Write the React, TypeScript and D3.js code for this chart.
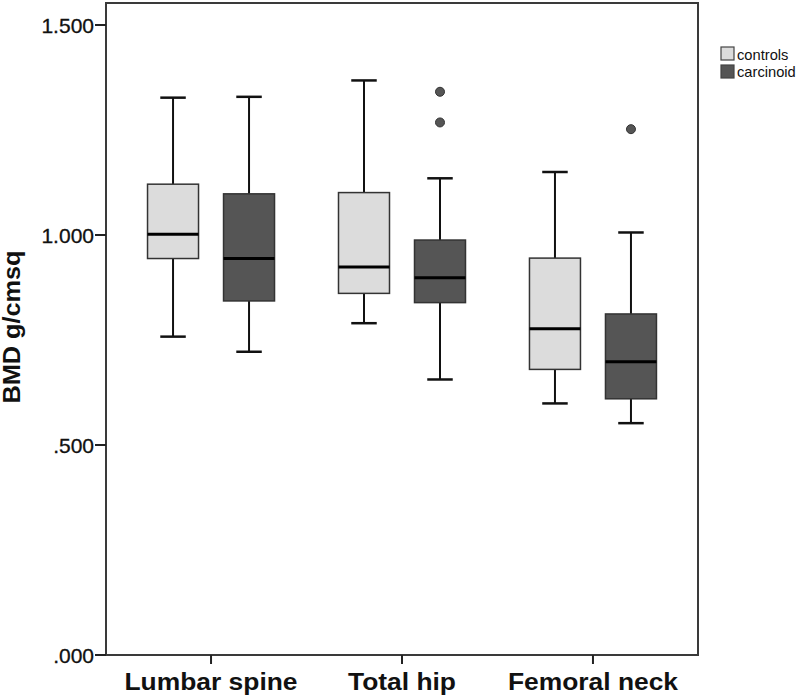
import React from "react";
import * as d3 from "d3";

const categories = ["Lumbar spine", "Total hip", "Femoral neck"];
const groups = ["controls", "carcinoid"];

const controlsLow = [0.758, 0.79, 0.599];
const controlsQ1 = [0.944, 0.861, 0.68];
const controlsMedian = [1.002, 0.924, 0.777];
const controlsQ3 = [1.121, 1.101, 0.945];
const controlsHigh = [1.327, 1.368, 1.15];
const controlsOutliers: number[][] = [[], [], []];

const carcinoidLow = [0.722, 0.656, 0.552];
const carcinoidQ1 = [0.843, 0.839, 0.61];
const carcinoidMedian = [0.944, 0.898, 0.698];
const carcinoidQ3 = [1.098, 0.988, 0.812];
const carcinoidHigh = [1.329, 1.135, 1.006];
const carcinoidOutliers: number[][] = [[], [1.341, 1.268], [1.252]];

const yTicks = [0, 0.5, 1.0, 1.5];
const yTickLabels = [".000", ".500", "1.000", "1.500"];

const fills: Record<string, string> = { controls: "#dcdcdc", carcinoid: "#555555" };

const W = 800;
const H = 699;
const left = 106;
const right = 698;
const top = 3;
const bottom = 655;

export default function App() {
  const y = d3.scaleLinear().domain([0, 1.5]).range([bottom, 25]);
  const x = d3.scalePoint<string>().domain(categories).range([left, right]).padding(0.55);
  const g = d3.scaleBand<string>().domain(groups).range([-76, 76]).paddingInner(0.329).paddingOuter(0.1645);
  const bw = g.bandwidth();

  const series = [
    { key: "controls", low: controlsLow, q1: controlsQ1, med: controlsMedian, q3: controlsQ3, high: controlsHigh, out: controlsOutliers },
    { key: "carcinoid", low: carcinoidLow, q1: carcinoidQ1, med: carcinoidMedian, q3: carcinoidQ3, high: carcinoidHigh, out: carcinoidOutliers },
  ];

  return (
    <svg width={W} height={H} style={{ position: "absolute", left: 0, top: 0, background: "#fff" }} fontFamily="Liberation Sans, Arial, sans-serif">
      <rect x={0} y={0} width={W} height={H} fill="#fff" />
      {/* frame */}
      <rect x={left} y={top} width={right - left} height={bottom - top} fill="none" stroke="#3a3a3a" strokeWidth={2} />
      {/* y axis */}
      {yTicks.map((t, i) => (
        <g key={t}>
          <line x1={left - 11} x2={left} y1={y(t)} y2={y(t)} stroke="#222" strokeWidth={2} />
          <text x={left - 12} y={y(t) + 8} textAnchor="end" fontSize={21} fill="#111" stroke="#111" strokeWidth={0.3}>
            {yTickLabels[i]}
          </text>
        </g>
      ))}
      {/* x axis ticks */}
      {categories.map((c) => (
        <g key={c}>
          <line x1={x(c)!} x2={x(c)!} y1={bottom} y2={bottom + 9} stroke="#222" strokeWidth={2} />
          <text x={x(c)!} y={690} textAnchor="middle" fontSize={24} fontWeight="bold" fill="#111" transform={`translate(${x(c)!},0) scale(1.1,1) translate(${-x(c)!},0)`}>
            {c}
          </text>
        </g>
      ))}
      <text transform={`translate(20,327) rotate(-90) scale(1.1,1)`} x={0} y={0} textAnchor="middle" fontSize={23} fontWeight="bold" fill="#111">
        BMD g/cmsq
      </text>
      {/* boxes */}
      {series.map((s) =>
        categories.map((c, i) => {
          const cx = x(c)! + g(s.key)! + bw / 2;
          const x0 = x(c)! + g(s.key)!;
          return (
            <g key={s.key + c}>
              <line x1={cx} x2={cx} y1={y(s.high[i])} y2={y(s.q3[i])} stroke="#111" strokeWidth={2} />
              <line x1={cx} x2={cx} y1={y(s.q1[i])} y2={y(s.low[i])} stroke="#111" strokeWidth={2} />
              <line x1={cx - bw / 4} x2={cx + bw / 4} y1={y(s.high[i])} y2={y(s.high[i])} stroke="#111" strokeWidth={2.5} />
              <line x1={cx - bw / 4} x2={cx + bw / 4} y1={y(s.low[i])} y2={y(s.low[i])} stroke="#111" strokeWidth={2.5} />
              <rect x={x0} y={y(s.q3[i])} width={bw} height={y(s.q1[i]) - y(s.q3[i])} fill={fills[s.key]} stroke="#333" strokeWidth={1.5} />
              <line x1={x0} x2={x0 + bw} y1={y(s.med[i])} y2={y(s.med[i])} stroke="#000" strokeWidth={3} />
              {s.out[i].map((o, j) => (
                <circle key={j} cx={cx} cy={y(o)} r={4.5} fill="#555" stroke="#333" strokeWidth={1} />
              ))}
            </g>
          );
        })
      )}
      {/* legend */}
      {groups.map((gr, i) => (
        <g key={gr}>
          <rect x={721} y={47 + i * 18} width={13} height={13} fill={fills[gr]} stroke="#444" strokeWidth={1.2} />
          <text x={737} y={60 + i * 17} fontSize={14} fill="#111" transform={`translate(737,0) scale(1.05,1) translate(-737,0)`}>
            {gr}
          </text>
        </g>
      ))}
    </svg>
  );
}
